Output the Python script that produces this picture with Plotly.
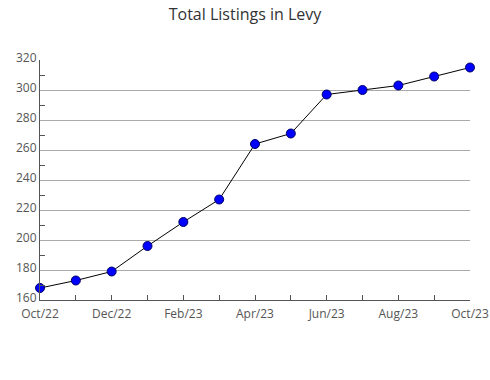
import plotly.graph_objects as go

months = ["Oct/22", "Nov/22", "Dec/22", "Jan/23", "Feb/23", "Mar/23", "Apr/23",
          "May/23", "Jun/23", "Jul/23", "Aug/23", "Sep/23", "Oct/23"]
listings = [168, 173, 179, 196, 212, 227, 264, 271, 297, 300, 303, 309, 315]
tick_labels = [m if i % 2 == 0 else "" for i, m in enumerate(months)]

x = list(range(len(months)))

fig = go.Figure()
fig.add_trace(go.Scatter(
    x=x, y=listings, mode="lines+markers",
    line=dict(color="black", width=1),
    marker=dict(color="#0000ff", size=9, line=dict(color="#000066", width=1)),
    cliponaxis=False, hoverinfo="skip",
))

fig.update_layout(
    width=490, height=380,
    margin=dict(l=40, r=20, t=60, b=80, autoexpand=False),
    paper_bgcolor="white", plot_bgcolor="white",
    font=dict(family="Open Sans", color="#555555", size=12),
    title=dict(text="Total Listings in Levy", x=0.5, xanchor="center",
               y=0.962, yanchor="middle",
               font=dict(family="Open Sans", size=16, color="#333333")),
    showlegend=False,
)
fig.update_xaxes(
    range=[0, 12], tickvals=x, ticktext=tick_labels,
    ticks="inside", ticklen=5, tickcolor="#555555",
    showline=True, linecolor="#555555", linewidth=1,
    showgrid=False, zeroline=False, automargin=False,
    ticklabelstandoff=3,
    tickfont=dict(size=12, color="#555555"),
)
fig.update_yaxes(
    range=[160, 320], dtick=20, tick0=160,
    ticks="", showline=True, linecolor="#555555", linewidth=1,
    showgrid=True, gridcolor="#aaaaaa", gridwidth=1, zeroline=False,
    automargin=False, ticklabelshift=-2,
    minor=dict(dtick=10, ticks="inside", ticklen=5, tickcolor="#555555", showgrid=False),
    tickfont=dict(size=12, color="#555555"),
)

fig.write_html("out.html")
